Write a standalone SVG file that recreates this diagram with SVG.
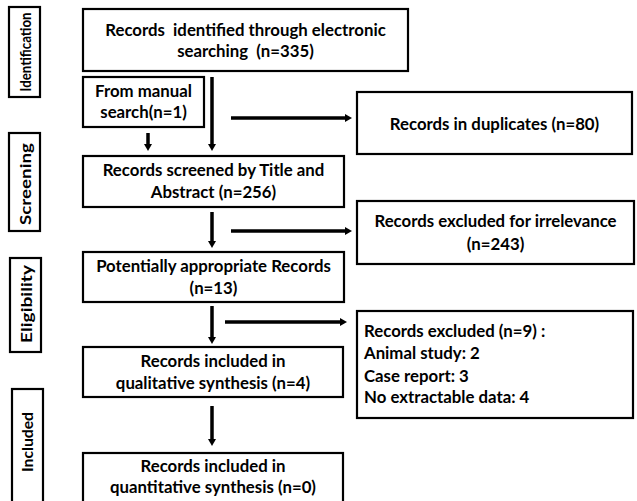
<svg xmlns="http://www.w3.org/2000/svg" width="637" height="501" viewBox="0 0 637 501">
<style>
.box{fill:#fff;stroke:#000;stroke-width:2.2}
.t{font-family:Lato,"Liberation Sans",sans-serif;font-weight:bold;font-size:16.8px;fill:#000}
.s{font-size:14.5px}
.c{text-anchor:middle}
.ar{stroke:#000;stroke-width:3.5;fill:none;marker-end:url(#ah)}
</style>
<defs>
<marker id="ah" markerUnits="userSpaceOnUse" markerWidth="10" markerHeight="10" viewBox="0 0 10 10" refX="2" refY="5" orient="auto">
<path d="M0,1 L7,5 L0,9 Z" fill="#000"/>
</marker>
</defs>
<g id="stage-identification"><rect class="box" x="9" y="7" width="31" height="90"/><text class="t s c" transform="translate(30.5,52) rotate(-90)" textLength="79" lengthAdjust="spacingAndGlyphs">Identification</text></g>
<g id="stage-screening"><rect class="box" x="9" y="133" width="31" height="98"/><text class="t s c" transform="translate(30.5,184) rotate(-90)" textLength="82" lengthAdjust="spacingAndGlyphs">Screening</text></g>
<g id="stage-eligibility"><rect class="box" x="10" y="258" width="31" height="94"/><text class="t s c" transform="translate(31.5,304) rotate(-90)" textLength="78" lengthAdjust="spacingAndGlyphs">Eligibility</text></g>
<g id="stage-included"><rect class="box" x="12" y="389" width="31" height="116"/><text class="t s c" transform="translate(33,442) rotate(-90)" textLength="60" lengthAdjust="spacingAndGlyphs">Included</text></g>

<g id="n-electronic"><rect class="box" x="83" y="9" width="325" height="62"/><text class="t c" x="245.5" y="36" xml:space="preserve">Records  identified through electronic</text><text class="t c" x="245.5" y="57" xml:space="preserve">searching  (n=335)</text></g>
<g id="n-manual"><rect class="box" x="83" y="77" width="121" height="50"/><text class="t c" x="143.5" y="97">From manual</text><text class="t c" x="143.5" y="118">search(n=1)</text></g>
<g id="n-duplicates"><rect class="box" x="357" y="92" width="275" height="62"/><text class="t c" x="494.5" y="130">Records in duplicates (n=80)</text></g>
<g id="n-screened"><rect class="box" x="83" y="156" width="261" height="51"/><text class="t c" x="213.5" y="176">Records screened by Title and</text><text class="t c" x="213.5" y="198">Abstract (n=256)</text></g>
<g id="n-irrelevance"><rect class="box" x="357" y="201" width="277" height="63"/><text class="t c" x="495.5" y="227">Records excluded for irrelevance</text><text class="t c" x="495.5" y="250">(n=243)</text></g>
<g id="n-potential"><rect class="box" x="83" y="252" width="261" height="50"/><text class="t c" x="213.5" y="272">Potentially appropriate Records</text><text class="t c" x="213.5" y="294">(n=13)</text></g>
<g id="n-excluded"><rect class="box" x="357" y="311" width="276" height="107"/><text class="t" x="364" y="337">Records excluded (n=9) :</text><text class="t" x="364" y="359">Animal study: 2</text><text class="t" x="364" y="382">Case report: 3</text><text class="t" x="364" y="403">No extractable data: 4</text></g>
<g id="n-qualitative"><rect class="box" x="83" y="347" width="260" height="50"/><text class="t c" x="213" y="367">Records included in</text><text class="t c" x="213" y="389">qualitative synthesis (n=4)</text></g>
<g id="n-quantitative"><rect class="box" x="83" y="453" width="260" height="52"/><text class="t c" x="213" y="472">Records included in</text><text class="t c" x="213" y="493">quantitative synthesis (n=0)</text></g>

<g id="connectors">
<line class="ar" x1="212" y1="77" x2="212" y2="146"/>
<line class="ar" x1="148" y1="133" x2="148" y2="146"/>
<line class="ar" x1="231" y1="118" x2="347" y2="118"/>
<line class="ar" x1="212" y1="212" x2="212" y2="243"/>
<line class="ar" x1="231" y1="231" x2="347" y2="231"/>
<line class="ar" x1="212" y1="306" x2="212" y2="339"/>
<line class="ar" x1="225" y1="322" x2="342" y2="322"/>
<line class="ar" x1="212" y1="406" x2="212" y2="441"/>
</g>
</svg>
